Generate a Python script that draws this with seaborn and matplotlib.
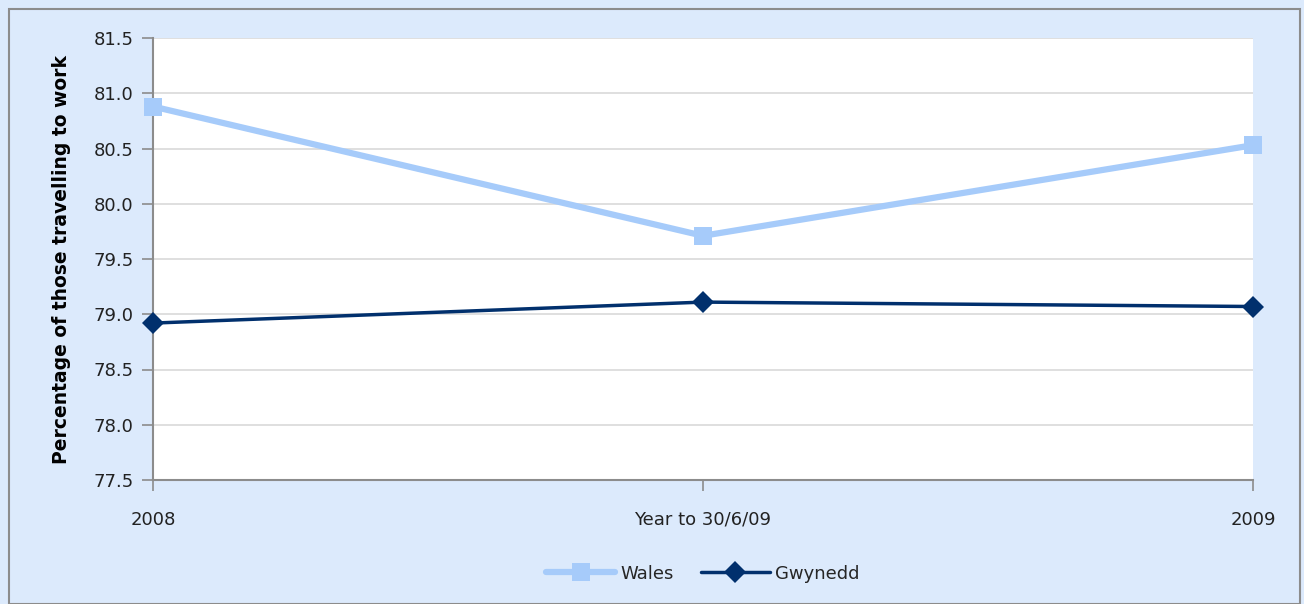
import matplotlib
matplotlib.use("Agg")
import matplotlib.pyplot as plt
from matplotlib.patches import Rectangle
import seaborn as sns
import pandas as pd

categories = ["2008", "Year to 30/6/09", "2009"]
wales = [80.88, 79.71, 80.53]
gwynedd = [78.92, 79.11, 79.07]
y_ticks = [77.5, 78.0, 78.5, 79.0, 79.5, 80.0, 80.5, 81.0, 81.5]

sns.set_theme(style="white")
plt.rcParams["font.family"] = ["DejaVu Sans"]

bg = "#DCEAFC"
fig = plt.figure(figsize=(13.04, 6.04), dpi=100, facecolor=bg)
fig.patches.append(Rectangle((9 / 1304, 0), 1 - 13 / 1304, 1 - 9 / 604,
                             transform=fig.transFigure, fill=False,
                             edgecolor="#8C8C8C", linewidth=1.5))
ax = fig.add_axes([153 / 1304, 124 / 604, 1100 / 1304, 442 / 604])
ax.set_facecolor("white")

df = pd.DataFrame({
    "x": list(range(len(categories))) * 2,
    "value": wales + gwynedd,
    "series": ["Wales"] * 3 + ["Gwynedd"] * 3,
})
palette = {"Wales": "#A6CBFA", "Gwynedd": "#01306D"}
sns.lineplot(data=df[df.series == "Wales"], x="x", y="value", ax=ax,
             color=palette["Wales"], linewidth=4.5, marker="s", markersize=13,
             markeredgewidth=0, label="Wales", clip_on=False, zorder=3)
sns.lineplot(data=df[df.series == "Gwynedd"], x="x", y="value", ax=ax,
             color=palette["Gwynedd"], linewidth=2.5, marker="D", markersize=11,
             markeredgewidth=0, label="Gwynedd", clip_on=False, zorder=4)

ax.set_xlim(0, 2)
ax.set_ylim(77.5, 81.5)
ax.set_yticks(y_ticks)
ax.set_yticklabels([f"{v:.1f}" for v in y_ticks], fontsize=13, color="#222222")
ax.set_xticks(range(len(categories)))
ax.set_xticklabels(categories, fontsize=13, color="#222222")
ax.grid(axis="y", color="#D9D9D9", linewidth=1.2)
ax.set_axisbelow(True)
for s in ["top", "right"]:
    ax.spines[s].set_visible(False)
for s in ["left", "bottom"]:
    ax.spines[s].set_color("#8C8C8C")
    ax.spines[s].set_linewidth(1.5)
ax.tick_params(axis="y", direction="out", length=8, width=1.2,
               color="#8C8C8C", left=True, pad=6)
ax.tick_params(axis="x", direction="out", length=8, width=1.2,
               color="#8C8C8C", bottom=True, pad=14)
ax.set_xlabel("")
ax.set_ylabel("Percentage of those travelling to work", fontsize=13.5,
              fontweight="bold", color="black", labelpad=16)

leg = ax.legend(loc="upper center", bbox_to_anchor=(0.5, -0.155), ncol=2,
                frameon=False, fontsize=13, handlelength=3.8,
                columnspacing=1.5, handletextpad=0.3)

fig.savefig("out.png", dpi=100, facecolor=bg)
